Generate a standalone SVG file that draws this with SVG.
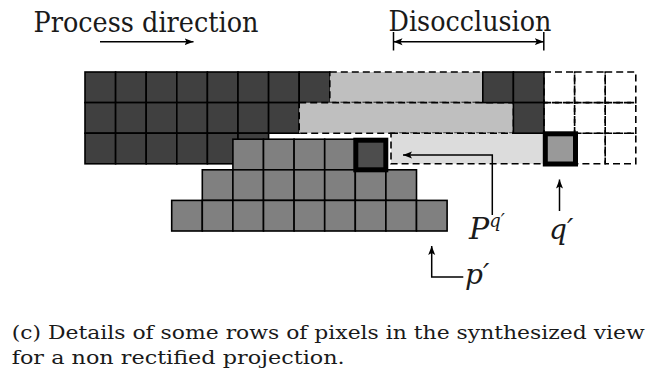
<svg xmlns="http://www.w3.org/2000/svg" width="649" height="378" viewBox="0 0 649 378">
<style>
.t{fill:#1a1a1a;font-family:"DejaVu Serif",serif}
.m{font-style:italic;fill:#1a1a1a;font-family:"DejaVu Serif",serif}
.dk{fill:#404040;stroke:#000;stroke-width:1.6}
.md{fill:#808080;stroke:#000;stroke-width:1.6}
.dash{stroke:#000;stroke-width:1.6;stroke-dasharray:7 4}
.em{fill:none}
.ln{stroke:#000;stroke-width:1.5;fill:none}
</style>
<defs>
<marker id="ah" markerUnits="userSpaceOnUse" markerWidth="10" markerHeight="8" refX="9" refY="4" orient="auto-start-reverse">
<path d="M0,0.5 L9,4 L0,7.5 L2,4 z" fill="#000"/>
</marker>
</defs>
<rect width="649" height="378" fill="#fff"/>

<g id="dark-grid">
<rect class="dk" x="85" y="72" width="30.6" height="30.6"/>
<rect class="dk" x="115.6" y="72" width="30.6" height="30.6"/>
<rect class="dk" x="146.2" y="72" width="30.6" height="30.6"/>
<rect class="dk" x="176.8" y="72" width="30.6" height="30.6"/>
<rect class="dk" x="207.4" y="72" width="30.6" height="30.6"/>
<rect class="dk" x="238" y="72" width="30.6" height="30.6"/>
<rect class="dk" x="268.6" y="72" width="30.6" height="30.6"/>
<rect class="dk" x="299.2" y="72" width="30.6" height="30.6"/>
<rect class="dk" x="85" y="102.6" width="30.6" height="30.6"/>
<rect class="dk" x="115.6" y="102.6" width="30.6" height="30.6"/>
<rect class="dk" x="146.2" y="102.6" width="30.6" height="30.6"/>
<rect class="dk" x="176.8" y="102.6" width="30.6" height="30.6"/>
<rect class="dk" x="207.4" y="102.6" width="30.6" height="30.6"/>
<rect class="dk" x="238" y="102.6" width="30.6" height="30.6"/>
<rect class="dk" x="268.6" y="102.6" width="30.6" height="30.6"/>
<rect class="dk" x="85" y="133.2" width="30.6" height="30.6"/>
<rect class="dk" x="115.6" y="133.2" width="30.6" height="30.6"/>
<rect class="dk" x="146.2" y="133.2" width="30.6" height="30.6"/>
<rect class="dk" x="176.8" y="133.2" width="30.6" height="30.6"/>
<rect class="dk" x="207.4" y="133.2" width="30.6" height="30.6"/>
<rect class="dk" x="238" y="133.2" width="30.6" height="30.6"/>
</g>

<g id="disoccluded-regions">
<rect class="dash" x="329.8" y="72" width="153" height="30.6" fill="#bfbfbf"/>
<rect class="dash" x="299.2" y="102.6" width="214.2" height="30.6" fill="#bfbfbf"/>
<rect class="dash" x="391" y="133.2" width="153" height="30.6" fill="#dcdcdc"/>
</g>

<g id="dark-right">
<rect class="dk" x="482.8" y="72" width="30.6" height="30.6"/>
<rect class="dk" x="513.4" y="72" width="30.6" height="30.6"/>
<rect class="dk" x="513.4" y="102.6" width="30.6" height="30.6"/>
</g>

<g id="empty-cells">
<rect class="dash em" x="544" y="72" width="30.6" height="30.6"/>
<rect class="dash em" x="574.6" y="72" width="30.6" height="30.6"/>
<rect class="dash em" x="605.2" y="72" width="30.6" height="30.6"/>
<rect class="dash em" x="544" y="102.6" width="30.6" height="30.6"/>
<rect class="dash em" x="574.6" y="102.6" width="30.6" height="30.6"/>
<rect class="dash em" x="605.2" y="102.6" width="30.6" height="30.6"/>
<rect class="dash em" x="574.6" y="133.2" width="30.6" height="30.6"/>
<rect class="dash em" x="605.2" y="133.2" width="30.6" height="30.6"/>
</g>

<g id="pixel-q">
<rect x="545.3" y="133.8" width="30.2" height="30.2" fill="#999" stroke="#000" stroke-width="5"/>
</g>

<g id="projected-block">
<rect class="md" x="232.9" y="139.2" width="30.6" height="30.6"/>
<rect class="md" x="263.5" y="139.2" width="30.6" height="30.6"/>
<rect class="md" x="294.1" y="139.2" width="30.6" height="30.6"/>
<rect class="md" x="324.7" y="139.2" width="30.6" height="30.6"/>
<rect class="md" x="202.3" y="169.8" width="30.6" height="30.6"/>
<rect class="md" x="232.9" y="169.8" width="30.6" height="30.6"/>
<rect class="md" x="263.5" y="169.8" width="30.6" height="30.6"/>
<rect class="md" x="294.1" y="169.8" width="30.6" height="30.6"/>
<rect class="md" x="324.7" y="169.8" width="30.6" height="30.6"/>
<rect class="md" x="355.3" y="169.8" width="30.6" height="30.6"/>
<rect class="md" x="385.9" y="169.8" width="30.6" height="30.6"/>
<rect class="md" x="171.7" y="200.4" width="30.6" height="30.6"/>
<rect class="md" x="202.3" y="200.4" width="30.6" height="30.6"/>
<rect class="md" x="232.9" y="200.4" width="30.6" height="30.6"/>
<rect class="md" x="263.5" y="200.4" width="30.6" height="30.6"/>
<rect class="md" x="294.1" y="200.4" width="30.6" height="30.6"/>
<rect class="md" x="324.7" y="200.4" width="30.6" height="30.6"/>
<rect class="md" x="355.3" y="200.4" width="30.6" height="30.6"/>
<rect class="md" x="385.9" y="200.4" width="30.6" height="30.6"/>
<rect class="md" x="416.5" y="200.4" width="30.6" height="30.6"/>
</g>

<g id="pixel-Pq">
<rect x="355.8" y="140.2" width="30" height="29.6" fill="#4d4d4d" stroke="#000" stroke-width="5"/>
</g>

<g id="connectors">
<line class="ln" x1="100" y1="41.7" x2="193.5" y2="41.7" marker-end="url(#ah)"/>
<line class="ln" x1="393.5" y1="41.7" x2="543.8" y2="41.7" marker-start="url(#ah)" marker-end="url(#ah)"/>
<line class="ln" x1="393.5" y1="32" x2="393.5" y2="50.5"/>
<line class="ln" x1="543.8" y1="32" x2="543.8" y2="50.5"/>
<polyline class="ln" points="492.3,215 492.3,155 403,155" marker-end="url(#ah)"/>
<line class="ln" x1="559.5" y1="211" x2="559.5" y2="179.5" marker-end="url(#ah)"/>
<polyline class="ln" points="463.3,277 431.7,277 431.7,246" marker-end="url(#ah)"/>
</g>

<g id="labels">
<text class="t" x="33.5" y="31.5" font-size="28" textLength="225" lengthAdjust="spacingAndGlyphs">Process direction</text>
<text class="t" x="388.5" y="31" font-size="28" textLength="163" lengthAdjust="spacingAndGlyphs">Disocclusion</text>
<text class="m" x="469" y="239" font-size="30">P<tspan font-size="18" dy="-12">q′</tspan></text>
<text class="m" x="549" y="239" font-size="28">q′</text>
<text class="m" x="465" y="284" font-size="28">p′</text>
<text class="t" x="11.7" y="339" font-size="19" textLength="633" lengthAdjust="spacingAndGlyphs">(c) Details of some rows of pixels in the synthesized view</text>
<text class="t" x="11.7" y="364" font-size="19" textLength="333" lengthAdjust="spacingAndGlyphs">for a non rectified projection.</text>
</g>
</svg>
